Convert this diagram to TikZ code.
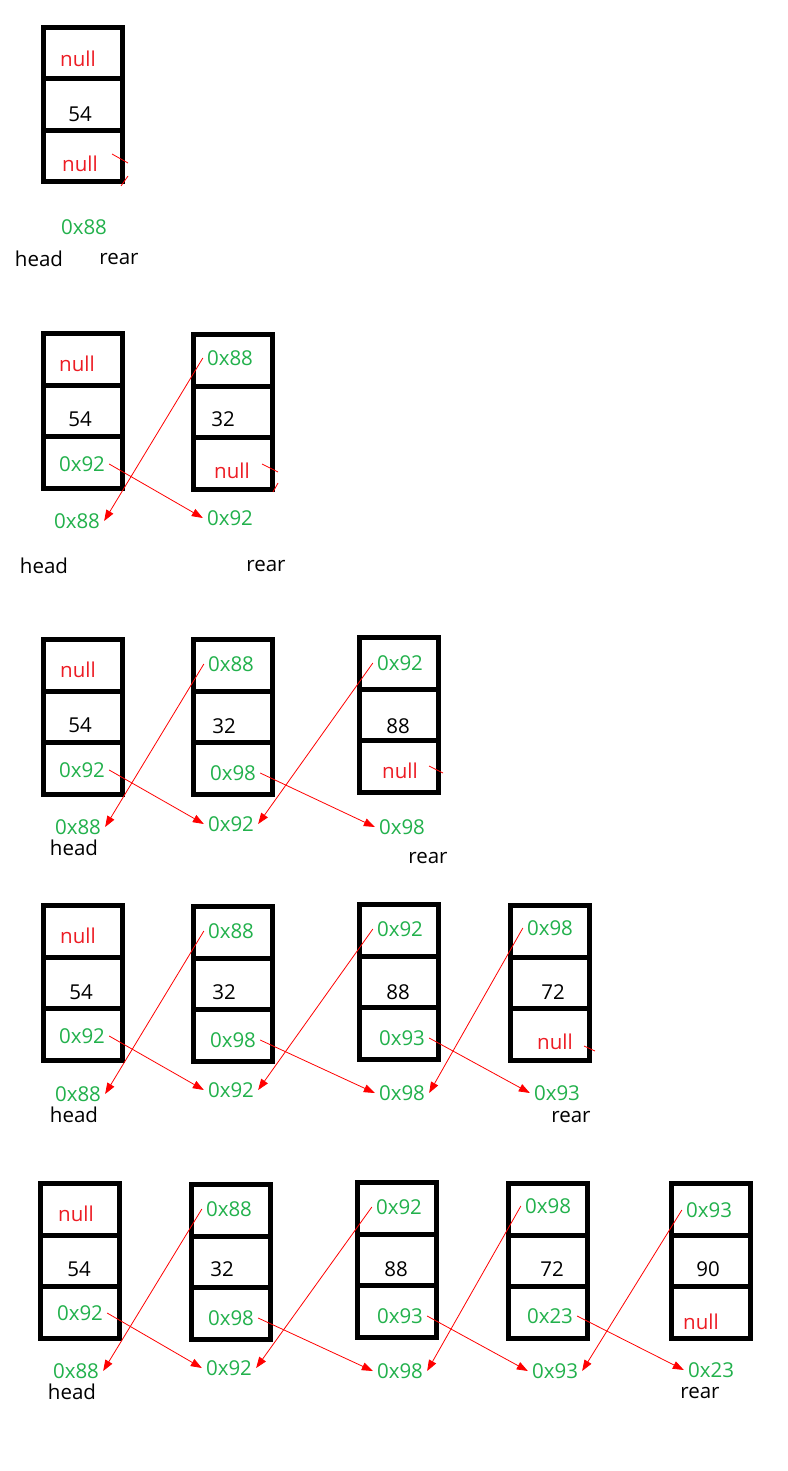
\documentclass[tikz,border=0pt]{standalone}
\usepackage{fontspec}
\setmainfont{Open Sans}
\usepackage{tikz}
\usetikzlibrary{arrows.meta,positioning}
\definecolor{cPtr}{HTML}{22B14C}
\definecolor{cNull}{HTML}{ED1C24}
\definecolor{cArrow}{HTML}{FF0000}
\tikzset{
  cell/.style  = {rectangle, draw=black, line width=5pt, minimum width=79pt,
                  minimum height=51.5pt, inner sep=0pt, outer sep=0pt},
  txt/.style   = {inner sep=4pt, font=\fontsize{20.5}{24}\selectfont},
  ptr/.style   = {txt, text=cPtr},
  nul/.style   = {txt, text=cNull},
  num/.style   = {txt, text=black},
  addr/.style  = {txt, text=cPtr},
  lbl/.style   = {txt, text=black},
  fl/.style    = {-{Triangle[length=11pt,width=8pt]}, draw=cArrow, line width=0.8pt},
  stub/.style  = {draw=cArrow, line width=0.8pt},
}
\begin{document}
\begin{tikzpicture}[x=1pt,y=-1pt]
  \useasboundingbox[fill=white] (0,0) rectangle (787,1471);

  % row 1
  \node[cell, anchor=north west] (c11t) at (43.5,27.5) {};
  \node[cell, below=0pt of c11t] (c11m) {};
  \node[cell, below=0pt of c11m] (c11b) {};
  \node[nul] (t11t) at (78,59) {null};
  \node[num] (t11m) at (80,114) {54};
  \node[nul] (t11b) at (80,164) {null};
  \node[addr] (a11) at (84,227) {0x88};
  \node[lbl] (h1) at (39,259) {head};
  \node[lbl] (e1) at (119,259) {rear};
  \draw[stub] (112,154) -- (128,163);
  \draw[stub] (121,186) -- (128,176);

  % row 2
  \node[cell, anchor=north west] (c21t) at (43.5,333.5) {};
  \node[cell, below=0pt of c21t] (c21m) {};
  \node[cell, below=0pt of c21m] (c21b) {};
  \node[cell, anchor=north west] (c22t) at (193.5,334.5) {};
  \node[cell, below=0pt of c22t] (c22m) {};
  \node[cell, below=0pt of c22m] (c22b) {};
  \node[nul] (t21t) at (77,364) {null};
  \node[num] (t21m) at (80,419) {54};
  \node[ptr] (t21b) at (82,464) {0x92};
  \node[ptr] (t22t) at (230,358) {0x88};
  \node[num] (t22m) at (223,419) {32};
  \node[nul] (t22b) at (232,471) {null};
  \node[addr] (a21) at (77,521) {0x88};
  \node[addr] (a22) at (230,518) {0x92};
  \node[lbl] (h2) at (44,566) {head};
  \node[lbl] (e2) at (266,566) {rear};
  \draw[fl] (t22t.west) -- (a21.east);
  \draw[fl] (t21b.east) -- (a22.west);
  \draw[stub] (262,464) -- (278,472);
  \draw[stub] (273,492) -- (278,483);

  % row 3
  \node[cell, anchor=north west] (c31t) at (43.5,639.5) {};
  \node[cell, below=0pt of c31t] (c31m) {};
  \node[cell, below=0pt of c31m] (c31b) {};
  \node[cell, anchor=north west] (c32t) at (193.5,639.5) {};
  \node[cell, below=0pt of c32t] (c32m) {};
  \node[cell, below=0pt of c32m] (c32b) {};
  \node[cell, anchor=north west] (c33t) at (359.5,637.5) {};
  \node[cell, below=0pt of c33t] (c33m) {};
  \node[cell, below=0pt of c33m] (c33b) {};
  \node[nul] (t31t) at (78,670) {null};
  \node[num] (t31m) at (80,725) {54};
  \node[ptr] (t31b) at (82,770) {0x92};
  \node[ptr] (t32t) at (231,664) {0x88};
  \node[num] (t32m) at (224,726) {32};
  \node[ptr] (t32b) at (233,773) {0x98};
  \node[ptr] (t33t) at (400,663) {0x92};
  \node[num] (t33m) at (398,726) {88};
  \node[nul] (t33b) at (400,771) {null};
  \node[addr] (a31) at (78,827) {0x88};
  \node[addr] (a32) at (231,824) {0x92};
  \node[addr] (a33) at (402,827) {0x98};
  \node[lbl] (h3) at (74,848) {head};
  \node[lbl] (e3) at (428,858) {rear};
  \draw[fl] (t32t.west) -- (a31.east);
  \draw[fl] (t31b.east) -- (a32.west);
  \draw[fl] (t33t.west) -- (a32.east);
  \draw[fl] (t32b.east) -- (a33.west);
  \draw[stub] (429,766) -- (443,773);

  % row 4
  \node[cell, anchor=north west] (c41t) at (43.5,905.5) {};
  \node[cell, below=0pt of c41t] (c41m) {};
  \node[cell, below=0pt of c41m] (c41b) {};
  \node[cell, anchor=north west] (c42t) at (193.5,906.5) {};
  \node[cell, below=0pt of c42t] (c42m) {};
  \node[cell, below=0pt of c42m] (c42b) {};
  \node[cell, anchor=north west] (c43t) at (359.5,904.5) {};
  \node[cell, below=0pt of c43t] (c43m) {};
  \node[cell, below=0pt of c43m] (c43b) {};
  \node[cell, anchor=north west] (c44t) at (510.5,905.5) {};
  \node[cell, below=0pt of c44t] (c44m) {};
  \node[cell, below=0pt of c44m] (c44b) {};
  \node[nul] (t41t) at (78,936) {null};
  \node[num] (t41m) at (81,992) {54};
  \node[ptr] (t41b) at (82,1036) {0x92};
  \node[ptr] (t42t) at (231,931) {0x88};
  \node[num] (t42m) at (224,992) {32};
  \node[ptr] (t42b) at (233,1040) {0x98};
  \node[ptr] (t43t) at (400,929) {0x92};
  \node[num] (t43m) at (398,992) {88};
  \node[ptr] (t43b) at (402,1038) {0x93};
  \node[ptr] (t44t) at (550,928) {0x98};
  \node[num] (t44m) at (553,992) {72};
  \node[nul] (t44b) at (555,1042) {null};
  \node[addr] (a41) at (78,1094) {0x88};
  \node[addr] (a42) at (231,1090) {0x92};
  \node[addr] (a43) at (402,1093) {0x98};
  \node[addr] (a44) at (557,1093) {0x93};
  \node[lbl] (h4) at (74,1115) {head};
  \node[lbl] (e4) at (571,1117) {rear};
  \draw[fl] (t42t.west) -- (a41.east);
  \draw[fl] (t41b.east) -- (a42.west);
  \draw[fl] (t43t.west) -- (a42.east);
  \draw[fl] (t42b.east) -- (a43.west);
  \draw[fl] (t44t.west) -- (a43.east);
  \draw[fl] (t43b.east) -- (a44.west);
  \draw[stub] (584,1046) -- (595,1051);

  % row 5
  \node[cell, anchor=north west] (c51t) at (40.5,1183.5) {};
  \node[cell, below=0pt of c51t] (c51m) {};
  \node[cell, below=0pt of c51m] (c51b) {};
  \node[cell, anchor=north west] (c52t) at (191.5,1184.5) {};
  \node[cell, below=0pt of c52t] (c52m) {};
  \node[cell, below=0pt of c52m] (c52b) {};
  \node[cell, anchor=north west] (c53t) at (357.5,1182.5) {};
  \node[cell, below=0pt of c53t] (c53m) {};
  \node[cell, below=0pt of c53m] (c53b) {};
  \node[cell, anchor=north west] (c54t) at (508.5,1183.5) {};
  \node[cell, below=0pt of c54t] (c54m) {};
  \node[cell, below=0pt of c54m] (c54b) {};
  \node[cell, anchor=north west] (c55t) at (671.5,1183.5) {};
  \node[cell, below=0pt of c55t] (c55m) {};
  \node[cell, below=0pt of c55m] (c55b) {};
  \node[nul] (t51t) at (76,1214) {null};
  \node[num] (t51m) at (79,1269) {54};
  \node[ptr] (t51b) at (80,1313) {0x92};
  \node[ptr] (t52t) at (229,1209) {0x88};
  \node[num] (t52m) at (222,1269) {32};
  \node[ptr] (t52b) at (231,1318) {0x98};
  \node[ptr] (t53t) at (399,1207) {0x92};
  \node[num] (t53m) at (396,1269) {88};
  \node[ptr] (t53b) at (400,1316) {0x93};
  \node[ptr] (t54t) at (548,1206) {0x98};
  \node[num] (t54m) at (552,1269) {72};
  \node[ptr] (t54b) at (550,1316) {0x23};
  \node[ptr] (t55t) at (709,1210) {0x93};
  \node[num] (t55m) at (708,1269) {90};
  \node[nul] (t55b) at (701,1322) {null};
  \node[addr] (a51) at (76,1371) {0x88};
  \node[addr] (a52) at (229,1368) {0x92};
  \node[addr] (a53) at (400,1371) {0x98};
  \node[addr] (a54) at (555,1371) {0x93};
  \node[addr] (a55) at (711,1370) {0x23};
  \node[lbl] (h5) at (72,1392) {head};
  \node[lbl] (e5) at (700,1393) {rear};
  \draw[fl] (t52t.west) -- (a51.east);
  \draw[fl] (t51b.east) -- (a52.west);
  \draw[fl] (t53t.west) -- (a52.east);
  \draw[fl] (t52b.east) -- (a53.west);
  \draw[fl] (t54t.west) -- (a53.east);
  \draw[fl] (t53b.east) -- (a54.west);
  \draw[fl] (t55t.west) -- (a54.east);
  \draw[fl] (t54b.east) -- (a55.west);
\end{tikzpicture}
\end{document}
